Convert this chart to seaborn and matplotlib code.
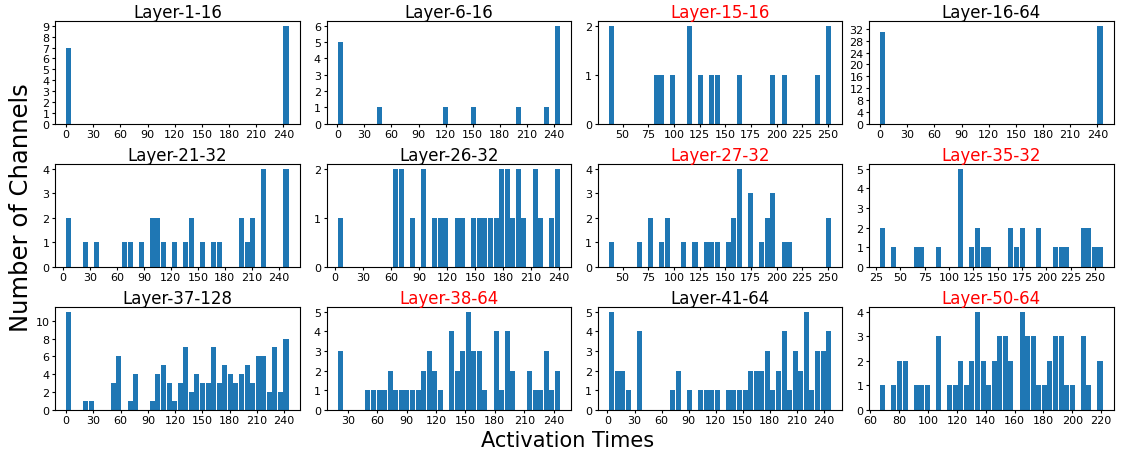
import numpy as np
import matplotlib.pyplot as plt
import seaborn as sns
from matplotlib.ticker import MultipleLocator

# 40 histogram bins per layer, spanning the min..max activation time of that layer
N_BINS = 40

titles = ["Layer-1-16", "Layer-6-16", "Layer-15-16", "Layer-16-64",
          "Layer-21-32", "Layer-26-32", "Layer-27-32", "Layer-35-32",
          "Layer-37-128", "Layer-38-64", "Layer-41-64", "Layer-50-64"]
highlighted = ["Layer-15-16", "Layer-27-32", "Layer-35-32", "Layer-38-64", "Layer-50-64"]

# min / max activation time per layer
t_min = [0, 0, 36.5, 0, 3.5, 2.3, 36.5, 29, 0, 19.4, 1.3, 66.6]
t_max = [246, 247, 253.5, 246, 251, 241.3, 253.5, 258, 245, 246.6, 248.6, 221.2]

# channel count per bin (bin index -> count)
l1_16 = {0: 7, 39: 9}
l6_16 = {0: 5, 7: 1, 19: 1, 24: 1, 32: 1, 37: 1, 39: 6}
l15_16 = {0: 2, 8: 1, 9: 1, 11: 1, 14: 2, 16: 1, 18: 1, 19: 1, 23: 1, 29: 1,
          31: 1, 37: 1, 39: 2}
l16_64 = {0: 31, 39: 33}
l21_32 = {0: 2, 3: 1, 5: 1, 10: 1, 11: 1, 13: 1, 15: 2, 16: 2, 17: 1, 19: 1,
          21: 1, 22: 2, 24: 1, 26: 1, 27: 1, 31: 2, 32: 1, 33: 2, 35: 4, 39: 4}
l26_32 = {0: 1, 10: 2, 11: 2, 13: 1, 15: 2, 17: 1, 18: 1, 19: 1, 21: 1, 22: 1,
          24: 1, 25: 1, 26: 1, 27: 1, 28: 1, 29: 2, 30: 2, 31: 1, 32: 2, 33: 1,
          35: 2, 36: 1, 38: 1, 39: 2}
l27_32 = {0: 1, 5: 1, 7: 2, 9: 1, 10: 2, 13: 1, 15: 1, 17: 1, 18: 1, 19: 1,
          21: 1, 22: 2, 23: 4, 25: 3, 27: 1, 28: 2, 29: 3, 31: 1, 32: 1, 39: 2}
l35_32 = {0: 2, 2: 1, 6: 1, 7: 1, 10: 1, 14: 5, 16: 1, 17: 2, 18: 1, 19: 1,
          23: 2, 24: 1, 25: 2, 28: 2, 31: 1, 32: 1, 33: 1, 36: 2, 37: 2, 38: 1, 39: 1}
l37_128 = {0: 11, 3: 1, 4: 1, 8: 3, 9: 6, 11: 1, 12: 4, 15: 1, 16: 4, 17: 5,
           18: 3, 19: 1, 20: 3, 21: 7, 22: 2, 23: 4, 24: 3, 25: 3, 26: 7, 27: 3,
           28: 5, 29: 4, 30: 3, 31: 4, 32: 5, 33: 3, 34: 6, 35: 6, 36: 2, 37: 7,
           38: 2, 39: 8}
l38_64 = {0: 3, 5: 1, 6: 1, 7: 1, 8: 1, 9: 2, 10: 1, 11: 1, 12: 1, 13: 1,
          14: 1, 15: 2, 16: 3, 17: 2, 18: 1, 20: 4, 21: 2, 22: 3, 23: 5, 24: 3,
          25: 3, 26: 1, 28: 4, 29: 1, 30: 4, 31: 2, 34: 2, 35: 1, 36: 1, 37: 3,
          38: 1, 39: 2}
l41_64 = {0: 5, 1: 2, 2: 2, 3: 1, 5: 4, 11: 1, 12: 2, 14: 1, 16: 1, 17: 1,
          18: 1, 19: 1, 21: 1, 22: 1, 23: 1, 24: 1, 25: 2, 26: 2, 27: 2, 28: 3,
          29: 1, 30: 2, 31: 4, 32: 1, 33: 3, 34: 2, 35: 5, 36: 1, 37: 3, 38: 3, 39: 4}
l50_64 = {0: 1, 2: 1, 3: 2, 4: 2, 6: 1, 7: 1, 8: 1, 10: 3, 12: 1, 13: 1,
          14: 2, 15: 1, 16: 2, 17: 4, 18: 2, 19: 1, 20: 2, 21: 3, 22: 3, 23: 2,
          25: 4, 26: 3, 27: 3, 28: 1, 29: 1, 30: 2, 31: 3, 32: 3, 33: 1, 34: 1,
          36: 3, 37: 1, 39: 2}
counts = [l1_16, l6_16, l15_16, l16_64, l21_32, l26_32, l27_32, l35_32,
          l37_128, l38_64, l41_64, l50_64]

x_steps = [30, 30, 25, 30, 30, 30, 25, 25, 30, 30, 30, 20]
y_steps = [1, 1, 1, 4, 1, 1, 1, 1, 2, 1, 1, 1]

fig, axes = plt.subplots(3, 4, figsize=(11.26, 4.56), dpi=100)
fig.subplots_adjust(left=0.049, right=0.989, top=0.952, bottom=0.099,
                    wspace=0.11, hspace=0.39)

for ax, title, lo, hi, cnt, xs, ys in zip(axes.flat, titles, t_min, t_max,
                                          counts, x_steps, y_steps):
    edges = np.linspace(lo, hi, N_BINS + 1)
    centers = (edges[:-1] + edges[1:]) / 2
    w = np.zeros(N_BINS)
    for k, v in cnt.items():
        w[k] = v
    sns.histplot(x=centers, weights=w, bins=N_BINS, binrange=(lo, hi),
                 shrink=0.9, color='#1f77b4', alpha=1, linewidth=0, ax=ax)
    ax.set_title(title, fontsize=12, pad=3,
                 color='red' if title in highlighted else 'black')
    ax.set_xlabel('')
    ax.set_ylabel('')
    ax.xaxis.set_major_locator(MultipleLocator(xs))
    ax.yaxis.set_major_locator(MultipleLocator(ys))
    ax.tick_params(labelsize=8, length=2.5, pad=1.5)

fig.supylabel('Number of Channels', fontsize=17.5, x=0.008, y=0.545)
fig.supxlabel('Activation Times', fontsize=15, x=0.504, y=0.01)

plt.savefig('out.png')
